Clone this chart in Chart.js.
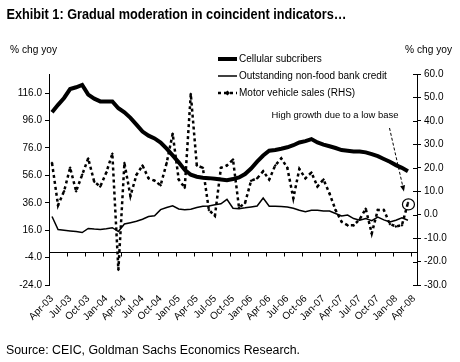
<!DOCTYPE html>
<html>
<head>
<meta charset="utf-8">
<script src="https://cdn.jsdelivr.net/npm/chart.js@4.4.1/dist/chart.umd.min.js"></script>
<style>
  html, body { margin: 0; padding: 0; background: #fff; }
  #wrap { width: 460px; height: 362px; }
</style>
</head>
<body>
<div id="wrap"><canvas id="c" width="460" height="362"></canvas></div>
<script>
// categories, Apr-03 .. Apr-08 (monthly)
const months = [
  'Apr-03','May-03','Jun-03','Jul-03','Aug-03','Sep-03','Oct-03','Nov-03','Dec-03','Jan-04','Feb-04','Mar-04',
  'Apr-04','May-04','Jun-04','Jul-04','Aug-04','Sep-04','Oct-04','Nov-04','Dec-04','Jan-05','Feb-05','Mar-05',
  'Apr-05','May-05','Jun-05','Jul-05','Aug-05','Sep-05','Oct-05','Nov-05','Dec-05','Jan-06','Feb-06','Mar-06',
  'Apr-06','May-06','Jun-06','Jul-06','Aug-06','Sep-06','Oct-06','Nov-06','Dec-06','Jan-07','Feb-07','Mar-07',
  'Apr-07','May-07','Jun-07','Jul-07','Aug-07','Sep-07','Oct-07','Nov-07','Dec-07','Jan-08','Feb-08','Mar-08',
  'Apr-08'
];

// % chg yoy, left axis
const cellular = [
  102, 107.5, 112.5, 119, 120.3, 122, 115, 112, 110, 110, 110, 105,
  102, 98, 93, 88, 85, 83, 80, 75.5, 70.6, 65.5, 60, 56.5,
  55, 54.3, 54, 53.5, 53, 52.5, 53.3, 54.5, 57, 61, 66, 70.5,
  74, 74.5, 75.4, 76.5, 78, 80, 81, 82.5, 80, 78.5, 77.3, 76,
  74.5, 74, 73.5, 73.5, 72.8, 71.5, 70, 68, 66, 63.5, 61.5, 59,
  null
];

const bankCredit = [
  26, 16.5, 16, 15.5, 15, 14.3, 17.3, 16.8, 16.5, 17, 17.8, 15,
  20.5, 21.5, 22.5, 24, 26, 26.5, 31, 32.5, 33.8, 31.5, 31, 31.3,
  32.5, 33.5, 33.7, 34.5, 35.3, 38.5, 32, 31.7, 32.3, 33, 33.7, 39.5,
  33.5, 33.5, 33.3, 33, 32, 30.5, 29.5, 30.6, 30.6, 30, 30, 28.2,
  26.4, 27, 24.5, 23.3, 24.5, 23, 25.5, 23.5, 22, 23.3, 25, 23.3,
  null
];

// % chg yoy, right axis
const motorSales = [
  22, 4, 10, 20, 10, 17, 24, 14, 12, 18, 26, -23.5,
  22, 8, 17, 21, 15.5, 14.5, 12.5, 22, 34.5, 15, 11.5, 51.5,
  21, 20, 2, -0.5, 20, 21, 23.5, 3, 5, 14.5, 15.5, 18.5,
  15, 21, 24, 20, 7, 19.5, 15.5, 18, 12, 15, 9, 2,
  -3, -4.5, -4.5, -2, 2.5, -8, 2, 2, -4, -5, -4.5, 5,
  null
];

const leftTicks = [-24, -4, 16, 36, 56, 76, 96, 116];
const rightTicks = [-30, -20, -10, 0, 10, 20, 30, 40, 50, 60];

const FONT = "'Liberation Sans', Arial, sans-serif";
Chart.defaults.font.family = FONT;
Chart.defaults.color = '#000';

// squeeze a text into a given width
function fitText(ctx, text, x, y, w, font) {
  ctx.font = font;
  const m = ctx.measureText(text).width;
  ctx.save();
  ctx.translate(x, y);
  ctx.scale(w / m, 1);
  ctx.fillText(text, 0, 0);
  ctx.restore();
}

const decor = {
  id: 'decor',
  beforeDatasetsDraw(chart) {
    const { ctx, chartArea: a, scales: { x, yL, yR } } = chart;
    const y0 = Math.round(yL.getPixelForValue(0)) + 0.5;
    const step = x.getPixelForValue(1) - x.getPixelForValue(0);
    ctx.save();
    ctx.strokeStyle = '#000';
    ctx.lineWidth = 1;
    ctx.beginPath();
    // category axis crossing at 0
    ctx.moveTo(a.left, y0);
    ctx.lineTo(a.right, y0);
    for (let i = 0; i < months.length; i += 3) {
      const px = Math.round(x.getPixelForValue(i) - step / 2) + 0.5;
      ctx.moveTo(px, y0);
      ctx.lineTo(px, y0 + 4);
    }
    // right axis ticks cross the line
    rightTicks.forEach(v => {
      const py = Math.round(yR.getPixelForValue(v)) + 0.5;
      ctx.moveTo(a.right - 4, py);
      ctx.lineTo(a.right, py);
    });
    ctx.stroke();
    ctx.restore();
  },
  afterDraw(chart) {
    const { ctx, scales: { x, yR } } = chart;
    ctx.save();
    ctx.fillStyle = '#000';
    ctx.strokeStyle = '#000';
    ctx.textBaseline = 'middle';
    ctx.textAlign = 'left';

    fitText(ctx, 'Exhibit 1: Gradual moderation in coincident indicators\u2026', 6.5, 15, 340, 'bold 14px ' + FONT);
    fitText(ctx, '% chg yoy', 10, 50, 47, '10px ' + FONT);
    fitText(ctx, '% chg yoy', 405, 50, 47, '10px ' + FONT);
    fitText(ctx, 'Source: CEIC, Goldman Sachs Economics Research.', 6, 351, 294, '12px ' + FONT);

    // legend
    const lx0 = 218, lx1 = 237, tx = 239;
    const rows = [59, 76, 93];
    ctx.lineCap = 'butt';
    ctx.lineWidth = 4;
    ctx.beginPath(); ctx.moveTo(lx0, rows[0]); ctx.lineTo(lx1, rows[0]); ctx.stroke();
    ctx.lineWidth = 1.5;
    ctx.beginPath(); ctx.moveTo(lx0, rows[1]); ctx.lineTo(lx1, rows[1]); ctx.stroke();
    ctx.lineWidth = 2.5;
    ctx.setLineDash([3, 3]);
    ctx.beginPath(); ctx.moveTo(lx0, rows[2]); ctx.lineTo(lx1, rows[2]); ctx.stroke();
    ctx.setLineDash([]);
    const mx = (lx0 + lx1) / 2;
    ctx.beginPath();
    ctx.moveTo(mx, rows[2] - 2.5); ctx.lineTo(mx + 2.5, rows[2]);
    ctx.lineTo(mx, rows[2] + 2.5); ctx.lineTo(mx - 2.5, rows[2]);
    ctx.closePath(); ctx.fill();
    ctx.font = '10px ' + FONT;
    ctx.fillText('Cellular subcribers', tx, rows[0]);
    ctx.fillText('Outstanding non-food bank credit', tx, rows[1]);
    ctx.fillText('Motor vehicle sales (RHS)', tx, rows[2]);

    // annotation
    fitText(ctx, 'High growth due to a low base', 271.5, 115.5, 127, '9px ' + FONT);
    const last = motorSales.length - 2;
    const px = x.getPixelForValue(last);
    const py = yR.getPixelForValue(motorSales[last]);
    const sx = 389.5, sy = 128;
    const ex = px - 4, ey = py - 11.5;
    ctx.lineWidth = 1;
    ctx.setLineDash([3, 2]);
    ctx.beginPath(); ctx.moveTo(sx, sy); ctx.lineTo(ex, ey); ctx.stroke();
    ctx.setLineDash([]);
    const ang = Math.atan2(ey - sy, ex - sx);
    ctx.beginPath();
    ctx.moveTo(ex, ey);
    ctx.lineTo(ex - 6 * Math.cos(ang) + 2.5 * Math.sin(ang), ey - 6 * Math.sin(ang) - 2.5 * Math.cos(ang));
    ctx.lineTo(ex - 6 * Math.cos(ang) - 2.5 * Math.sin(ang), ey - 6 * Math.sin(ang) + 2.5 * Math.cos(ang));
    ctx.closePath(); ctx.fill();
    ctx.lineWidth = 1.2;
    ctx.beginPath(); ctx.ellipse(px + 0.5, py + 1.5, 6, 5.5, 0, 0, Math.PI * 2); ctx.stroke();
    ctx.restore();
  }
};

new Chart(document.getElementById('c'), {
  type: 'line',
  data: {
    labels: months,
    datasets: [
      {
        label: 'Cellular subcribers',
        data: cellular,
        yAxisID: 'yL',
        borderColor: '#000',
        borderWidth: 4,
        pointRadius: 0,
        tension: 0
      },
      {
        label: 'Outstanding non-food bank credit',
        data: bankCredit,
        yAxisID: 'yL',
        borderColor: '#000',
        borderWidth: 1.5,
        pointRadius: 0,
        tension: 0
      },
      {
        label: 'Motor vehicle sales (RHS)',
        data: motorSales,
        yAxisID: 'yR',
        borderColor: '#000',
        backgroundColor: '#000',
        borderWidth: 2.5,
        borderDash: [3, 3],
        pointRadius: 1.5,
        pointStyle: 'rectRot',
        pointBorderWidth: 0,
        tension: 0
      }
    ]
  },
  options: {
    responsive: false,
    animation: false,
    layout: { padding: { top: 74, left: 0, right: 0, bottom: 0 } },
    plugins: { legend: { display: false }, tooltip: { enabled: false } },
    scales: {
      x: {
        offset: true,
        grid: { display: false },
        border: { display: false },
        ticks: {
          autoSkip: false,
          minRotation: 45,
          maxRotation: 45,
          padding: 0,
          font: { size: 10 },
          callback: (v, i) => (i % 3 === 0 ? months[i] : '')
        },
        afterFit: s => { s.height = 77; }
      },
      yL: {
        position: 'left',
        min: -24,
        max: 130,
        afterBuildTicks: s => { s.ticks = leftTicks.map(v => ({ value: v })); },
        grid: { drawOnChartArea: false, tickLength: 4, color: '#000' },
        border: { color: '#000' },
        ticks: { padding: 3, font: { size: 10 }, callback: v => v.toFixed(1) },
        afterFit: s => { s.width = 49; }
      },
      yR: {
        position: 'right',
        min: -30,
        max: 60,
        afterBuildTicks: s => { s.ticks = rightTicks.map(v => ({ value: v })); },
        grid: { drawOnChartArea: false, tickLength: 4, color: '#000' },
        border: { color: '#000' },
        ticks: { padding: 3, font: { size: 10 }, callback: v => v.toFixed(1) },
        afterFit: s => { s.width = 43; }
      }
    }
  },
  plugins: [decor]
});
</script>
</body>
</html>
